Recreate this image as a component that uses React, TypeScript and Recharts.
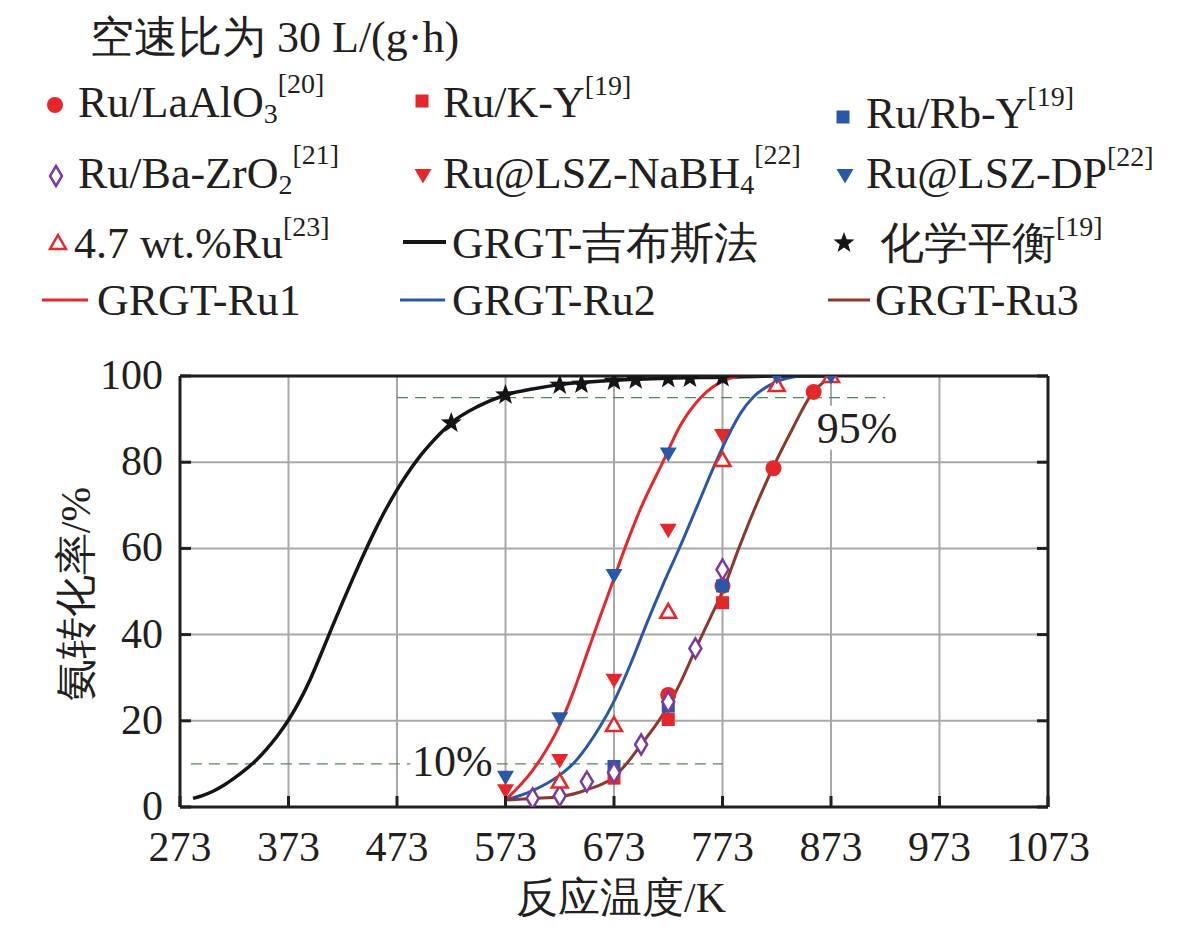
import React from "react";
import {
  ComposedChart, Line, Scatter, XAxis, YAxis, CartesianGrid,
  ReferenceLine, ReferenceDot,
} from "recharts";

const FONT = "Liberation Serif, Tinos, DejaVu Serif, serif";
const RED = "#e5272b";
const BLUE = "#2a58a8";
const BROWN = "#8a3a2c";
const PURPLE = "#7a3b9e";
const BLACK = "#151515";
const GREEN = "#4d8a5a";
const AXIS = "#231f20";
const GRID = "#a8a8a8";

const xTicks = [273, 373, 473, 573, 673, 773, 873, 973, 1073];
const yTicks = [0, 20, 40, 60, 80, 100];

// 拟合曲线
const gibbsT = [285, 293, 303, 313, 323, 333, 343, 353, 363, 373, 383, 393, 403, 413, 423, 433, 443, 453, 463, 473, 483, 493, 503, 513, 523, 548, 573, 598, 623, 673, 723, 773, 823, 873];
const gibbsC = [2.0, 2.6, 3.6, 5.0, 6.7, 8.6, 10.8, 13.5, 16.6, 20.2, 24.5, 29.6, 35.5, 41.6, 47.6, 53.4, 59.0, 64.3, 69.2, 73.6, 77.5, 81.0, 84.0, 86.7, 89.1, 93.0, 95.6, 97.0, 98.0, 99.0, 99.5, 99.7, 100, 100];
const ru1T = [573, 598, 610, 623, 636, 648, 660, 673, 683, 698, 718, 733, 753, 773, 788];
const ru1C = [1.6, 8.5, 13.0, 19.0, 27.0, 35.5, 44.0, 53.0, 60.0, 69.5, 80.0, 88.0, 95.0, 98.8, 100];
const ru2T = [573, 598, 623, 636, 648, 660, 673, 688, 703, 718, 734, 750, 766, 780, 790, 801, 823, 843];
const ru2C = [1.6, 3.8, 7.4, 10.2, 14.0, 18.6, 24.5, 33.0, 42.5, 51.5, 60.5, 70.0, 79.5, 87.0, 91.5, 95.0, 98.7, 100];
const ru3T = [573, 598, 623, 648, 673, 686, 698, 711, 723, 736, 748, 761, 773, 788, 804, 820, 838, 853, 873];
const ru3C = [1.6, 2.0, 2.4, 4.0, 7.0, 10.5, 14.5, 18.8, 23.5, 29.8, 36.5, 43.5, 50.0, 60.0, 70.0, 79.0, 88.0, 95.0, 100];

// 文献数据点
const laAlO3T = [723, 773, 820, 857];
const laAlO3C = [26.0, 51.3, 78.6, 96.3];
const kyT = [673, 723, 773];
const kyC = [6.7, 20.3, 47.4];
const rbyT = [673, 723, 773];
const rbyC = [9.4, 23.4, 51.3];
const baZrT = [598, 623, 648, 673, 698, 723, 748, 773];
const baZrC = [2.0, 2.6, 5.9, 8.0, 14.5, 24.4, 36.8, 55.1];
const nabhT = [573, 623, 673, 723, 773];
const nabhC = [3.9, 10.9, 29.5, 64.3, 86.3];
const dpT = [573, 623, 673, 723, 773, 823, 873];
const dpC = [7.0, 20.6, 53.8, 82.0, 100, 100, 100];
const wtT = [623, 673, 723, 773, 823, 873];
const wtC = [5.9, 19.0, 45.3, 80.5, 97.9, 100];
const eqT = [523, 573, 623, 643, 673, 693, 723, 743, 773];
const eqC = [89.1, 95.6, 97.9, 98.1, 98.8, 99.1, 99.4, 99.5, 99.6];

// 参考线
const line10 = [{ x: 283, y: 10 }, { x: 773, y: 10 }];
const line95 = [{ x: 473, y: 95 }, { x: 923, y: 95 }];

const zip = (ts: number[], cs: number[]) => ts.map((t, i) => ({ t, c: cs[i] }));

function starPath(cx: number, cy: number, R: number, r: number) {
  let d = "";
  for (let i = 0; i < 10; i++) {
    const a = -Math.PI / 2 + (i * Math.PI) / 5;
    const rad = i % 2 === 0 ? R : r;
    d += (i === 0 ? "M" : "L") + (cx + rad * Math.cos(a)).toFixed(2) + "," + (cy + rad * Math.sin(a)).toFixed(2);
  }
  return d + "Z";
}

const circleMk = ({ cx, cy }: any) => <circle cx={cx} cy={cy} r={8} fill={RED} />;
const squareMk = (color: string) => ({ cx, cy }: any) => (
  <rect x={cx - 6.5} y={cy - 6.5} width={13} height={13} fill={color} />
);
const diamondMk = ({ cx, cy }: any) => (
  <polygon points={`${cx},${cy - 10} ${cx + 6},${cy} ${cx},${cy + 10} ${cx - 6},${cy}`}
    fill="#fff" stroke={PURPLE} strokeWidth={2.5} />
);
const downTriMk = (color: string) => ({ cx, cy }: any) => (
  <polygon points={`${cx - 8.5},${cy - 6} ${cx + 8.5},${cy - 6} ${cx},${cy + 8.5}`} fill={color} />
);
const upTriMk = ({ cx, cy }: any) => (
  <polygon points={`${cx},${cy - 8} ${cx + 8},${cy + 6} ${cx - 8},${cy + 6}`}
    fill="#fff" stroke={RED} strokeWidth={2.5} />
);
const starMk = ({ cx, cy }: any) => <path d={starPath(cx, cy, 11, 4.5)} fill={BLACK} />;

const pctLabel = (text: string) => ({ cx, cy }: any) => (
  <g>
    <rect x={cx - 42} y={cy - 22} width={84} height={44} fill="#fff" />
    <text x={cx} y={cy + 15} textAnchor="middle" fontSize={44} fontFamily={FONT} fill={AXIS}>{text}</text>
  </g>
);

const XTick = ({ x, y, payload }: any) => (
  <g>
    <line x1={x} y1={y} x2={x} y2={y - 11} stroke={AXIS} strokeWidth={3} />
    <text x={x} y={y + 54} textAnchor="middle" fontSize={42} fontFamily={FONT} fill={AXIS}>{payload.value}</text>
  </g>
);
const YTick = ({ x, y, payload }: any) => (
  <g>
    <line x1={x} y1={y} x2={x + 11} y2={y} stroke={AXIS} strokeWidth={3} />
    <text x={x - 17} y={y + 13} textAnchor="end" fontSize={42} fontFamily={FONT} fill={AXIS}>{payload.value}</text>
  </g>
);
const TopTick = ({ x, y }: any) => <line x1={x} y1={y} x2={x} y2={y + 11} stroke={AXIS} strokeWidth={3} />;
const RightTick = ({ x, y }: any) => <line x1={x} y1={y} x2={x - 11} y2={y} stroke={AXIS} strokeWidth={3} />;

const SUP = 28;

function LegendOverlay() {
  const t = { fontSize: 44, fontFamily: FONT, fill: AXIS };
  return (
    <svg width={1181} height={928} style={{ position: "absolute", left: 0, top: 0, pointerEvents: "none" }}>
      <text x={90} y={52} {...t}>空速比为 30 L/(g·h)</text>

      {circleMk({ cx: 55, cy: 105 })}
      <text x={78} y={117} {...t}>Ru/LaAlO<tspan fontSize={SUP} dy={6}>3</tspan><tspan fontSize={SUP} dy={-30}>[20]</tspan></text>
      {squareMk(RED)({ cx: 422, cy: 101 })}
      <text x={443} y={117} {...t}>Ru/K-Y<tspan fontSize={SUP} dy={-22}>[19]</tspan></text>
      {squareMk(BLUE)({ cx: 843, cy: 117 })}
      <text x={866} y={128} {...t}>Ru/Rb-Y<tspan fontSize={SUP} dy={-22}>[19]</tspan></text>

      {diamondMk({ cx: 56, cy: 176 })}
      <text x={78} y={188} {...t}>Ru/Ba-ZrO<tspan fontSize={SUP} dy={6}>2</tspan><tspan fontSize={SUP} dy={-30}>[21]</tspan></text>
      {downTriMk(RED)({ cx: 423, cy: 175 })}
      <text x={443} y={188} {...t}>Ru@LSZ-NaBH<tspan fontSize={SUP} dy={6}>4</tspan><tspan fontSize={SUP} dy={-30}>[22]</tspan></text>
      {downTriMk(BLUE)({ cx: 845, cy: 175 })}
      <text x={866} y={188} {...t}>Ru@LSZ-DP<tspan fontSize={SUP} dy={-22}>[22]</tspan></text>

      {upTriMk({ cx: 58, cy: 243 })}
      <text x={74} y={258} {...t}>4.7 wt.%Ru<tspan fontSize={SUP} dy={-22}>[23]</tspan></text>
      <line x1={403} y1={242} x2={446} y2={242} stroke={BLACK} strokeWidth={4} />
      <text x={452} y={258} {...t}>GRGT-吉布斯法</text>
      {starMk({ cx: 844, cy: 243 })}
      <text x={880} y={258} {...t}>化学平衡<tspan fontSize={SUP} dy={-22}>[19]</tspan></text>

      <line x1={42} y1={300} x2={88} y2={300} stroke={RED} strokeWidth={3} />
      <text x={97} y={315} {...t}>GRGT-Ru1</text>
      <line x1={400} y1={300} x2={445} y2={300} stroke={BLUE} strokeWidth={3} />
      <text x={452} y={315} {...t}>GRGT-Ru2</text>
      <line x1={828} y1={300} x2={870} y2={300} stroke={BROWN} strokeWidth={3} />
      <text x={875} y={315} {...t}>GRGT-Ru3</text>

      <text x={621} y={912} textAnchor="middle" {...t} fontSize={42}>反应温度/K</text>
      <text transform="translate(90,594) rotate(-90)" textAnchor="middle" {...t} fontSize={42}>氨转化率/%</text>
    </svg>
  );
}

export default function App() {
  return (
    <div style={{ position: "absolute", left: 0, top: 0, width: 1181, height: 928, background: "#fff", fontFamily: FONT }}>
      <ComposedChart width={1181} height={928} margin={{ top: 375, right: 123, bottom: 61, left: 80 }}>
        <CartesianGrid stroke={GRID} strokeWidth={2} />
        <XAxis dataKey="t" type="number" domain={[273, 1073]} ticks={xTicks} interval={0}
          allowDataOverflow height={60} tickSize={0} tickMargin={0}
          axisLine={{ stroke: AXIS, strokeWidth: 3 }} tickLine={false}
          tick={(p: any) => <XTick {...p} />} />
        <XAxis xAxisId="top" orientation="top" type="number" domain={[273, 1073]} ticks={xTicks} interval={0}
          allowDataOverflow height={1} tickSize={0} tickMargin={0}
          axisLine={{ stroke: AXIS, strokeWidth: 3 }} tickLine={false}
          tick={(p: any) => <TopTick {...p} />} />
        <YAxis dataKey="c" type="number" domain={[0, 100]} ticks={yTicks} interval={0}
          allowDataOverflow width={100} tickSize={0} tickMargin={0}
          axisLine={{ stroke: AXIS, strokeWidth: 3 }} tickLine={false}
          tick={(p: any) => <YTick {...p} />} />
        <YAxis yAxisId="right" orientation="right" type="number" domain={[0, 100]} ticks={yTicks} interval={0}
          allowDataOverflow width={10} tickSize={0} tickMargin={0}
          axisLine={{ stroke: AXIS, strokeWidth: 3 }} tickLine={false}
          tick={(p: any) => <RightTick {...p} />} />

        <ReferenceLine segment={line10} stroke={GREEN} strokeWidth={1.3} strokeDasharray="11 7" />
        <ReferenceLine segment={line95} stroke={GREEN} strokeWidth={1.3} strokeDasharray="11 7" />
        <ReferenceDot x={524} y={10.6} r={0} shape={pctLabel("10%")} />
        <ReferenceDot x={897} y={88} r={0} shape={pctLabel("95%")} />

        <Line data={zip(gibbsT, gibbsC)} dataKey="c" type="monotone" stroke={BLACK} strokeWidth={3.5} dot={false} isAnimationActive={false} />
        <Line data={zip(ru1T, ru1C)} dataKey="c" type="monotone" stroke={RED} strokeWidth={3} dot={false} isAnimationActive={false} />
        <Line data={zip(ru2T, ru2C)} dataKey="c" type="monotone" stroke={BLUE} strokeWidth={3} dot={false} isAnimationActive={false} />
        <Line data={zip(ru3T, ru3C)} dataKey="c" type="monotone" stroke={BROWN} strokeWidth={3} dot={false} isAnimationActive={false} />

        <Scatter data={zip(laAlO3T, laAlO3C)} shape={circleMk} isAnimationActive={false} />
        <Scatter data={zip(kyT, kyC)} shape={squareMk(RED)} isAnimationActive={false} />
        <Scatter data={zip(rbyT, rbyC)} shape={squareMk(BLUE)} isAnimationActive={false} />
        <Scatter data={zip(baZrT, baZrC)} shape={diamondMk} isAnimationActive={false} />
        <Scatter data={zip(wtT, wtC)} shape={upTriMk} isAnimationActive={false} />
        <Scatter data={zip(nabhT, nabhC)} shape={downTriMk(RED)} isAnimationActive={false} />
        <Scatter data={zip(dpT, dpC)} shape={downTriMk(BLUE)} isAnimationActive={false} />
        <Scatter data={zip(eqT, eqC)} shape={starMk} isAnimationActive={false} />
      </ComposedChart>
      <LegendOverlay />
    </div>
  );
}
